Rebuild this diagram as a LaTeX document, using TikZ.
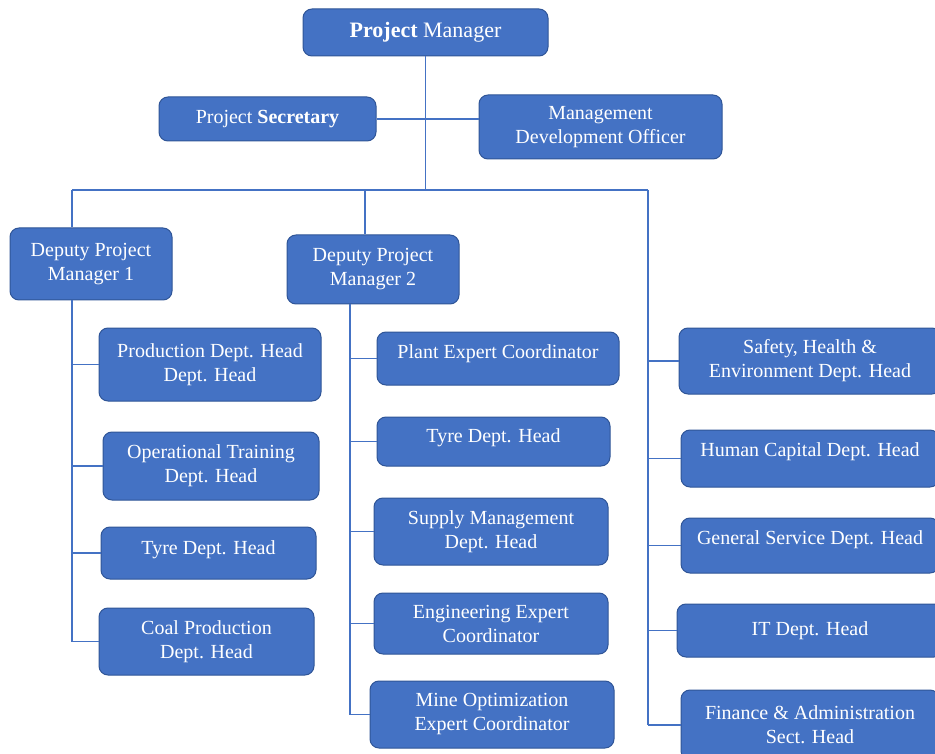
\documentclass[tikz,border=0pt]{standalone}
\usepackage{fontspec}
\setmainfont{Liberation Serif}
\definecolor{boxblue}{HTML}{4472C4}
\definecolor{boxedge}{HTML}{2F5597}
\begin{document}
\begin{tikzpicture}[x=1pt,y=-1pt,
  box/.style={draw=boxedge, line width=1pt, fill=boxblue, rounded corners=9pt,
    text=white, align=center, font=\fontsize{20}{24}\selectfont, inner sep=3pt},
  wh/.style 2 args={minimum width=#1pt, minimum height=#2pt},
  lift/.style={text depth=#1pt},
  conn/.style={draw=boxblue, line width=1.5pt}]
\useasboundingbox (0,0) rectangle (935,754);
\clip (0,0) rectangle (935,754);

% top level
\node[box, wh={245}{47}, font=\fontsize{22}{26}\selectfont] (pm) at (425.5,32.5) {\textbf{Project} Manager};
\node[box, wh={217}{44}] (ps) at (267.5,119) {Project \textbf{Secretary}};
\node[box, wh={243}{64}] (mdo) at (600.5,127) {Management\\Development Officer};
\node[box, wh={162}{72}] (dpm1) at (91,264) {Deputy Project\\Manager 1};
\node[box, wh={172}{69}] (dpm2) at (373,269.5) {Deputy Project\\Manager 2};

% left column
\node[box, wh={222}{73}] (prod) at (210,364.5) {Production Dept. Head\\Dept. Head};
\node[box, wh={216}{68}] (optr) at (211,466) {Operational Training\\Dept. Head};
\node[box, wh={215}{52}, lift=10.3] (tyl) at (208.5,553) {Tyre Dept. Head};
\node[box, wh={215}{67}] (coal) at (206.5,641.5) {Coal Production\\Dept. Head};

% middle column
\node[box, wh={242}{53}, lift=14.3] (plant) at (498,358.5) {Plant Expert Coordinator};
\node[box, wh={233}{49}, lift=11.3] (tym) at (493.5,441.5) {Tyre Dept. Head};
\node[box, wh={234}{67}] (sup) at (491,531.5) {Supply Management\\Dept. Head};
\node[box, wh={234}{61}] (eng) at (491,623.5) {Engineering Expert\\Coordinator};
\node[box, wh={244}{67}] (mine) at (492,714.5) {Mine Optimization\\Expert Coordinator};

% right column
\node[box, wh={262}{66}] (she) at (810,361) {Safety, Health \&\\Environment Dept. Head};
\node[box, wh={258}{57}, lift=18.3] (hc) at (810,458.5) {Human Capital Dept. Head};
\node[box, wh={258}{55}, lift=16.3] (gs) at (810,545.5) {General Service Dept. Head};
\node[box, wh={266}{53}] (it) at (810,630.5) {IT Dept. Head};
\node[box, wh={258}{70}] (fin) at (810,725) {Finance \& Administration\\Sect. Head};

% bus coordinates
\coordinate (jt) at (425.5,190);
\coordinate (bl) at (72,190);
\coordinate (bm) at (365,190);
\coordinate (br) at (648,190);
\coordinate (cm) at (350,310);

% connectors
\draw[conn] (pm.south) -- (jt);
\draw[conn] (ps.east) -- (ps.east -| mdo.west);
\draw[conn] (bl) -- (br);
\draw[conn] (bl) -- (bl |- dpm1.north);
\draw[conn] (bm) -- (bm |- dpm2.north);
\draw[conn] (bl |- dpm1.south) -- (bl |- coal.west);
\foreach \n in {prod,optr,tyl,coal} \draw[conn] (bl |- \n.west) -- (\n.west);
\draw[conn] (cm |- dpm2.south) -- (cm |- mine.west);
\foreach \n in {plant,tym,sup,eng,mine} \draw[conn] (cm |- \n.west) -- (\n.west);
\draw[conn] (br) -- (br |- fin.west);
\foreach \n in {she,hc,gs,it,fin} \draw[conn] (br |- \n.west) -- (\n.west);
\end{tikzpicture}
\end{document}
